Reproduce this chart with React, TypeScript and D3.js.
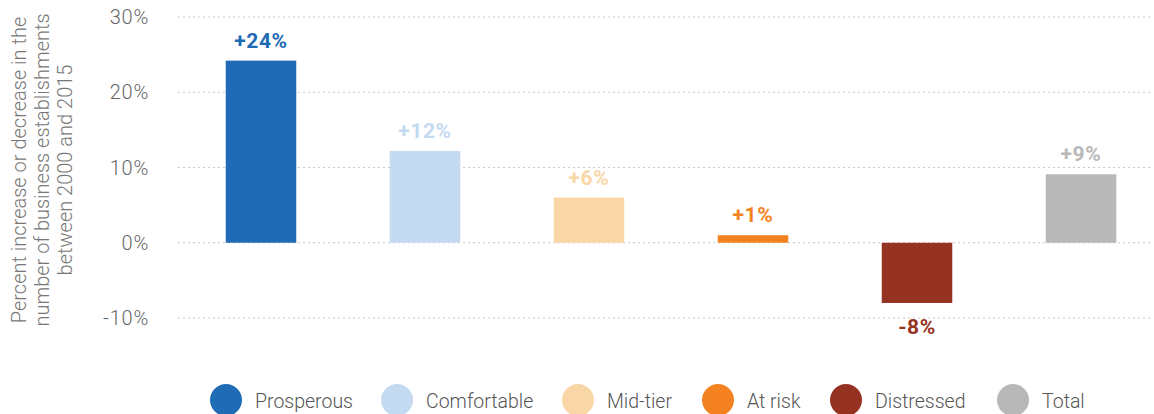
import React, { useEffect, useRef } from "react";
import * as d3 from "d3";

const categories = ["Prosperous", "Comfortable", "Mid-tier", "At risk", "Distressed", "Total"];
const values = [24.2, 12.2, 6, 1, -8, 9.1];
const valueLabels = ["+24%", "+12%", "+6%", "+1%", "-8%", "+9%"];
const colors = ["#1f6bb5", "#c4daf0", "#f9d6a6", "#f58220", "#963222", "#b8b8b8"];
const yTicks = [-10, 0, 10, 20, 30];
const titleLines = [
  "Percent increase or decrease in the",
  "number of business establishments",
  "between 2000 and 2015",
];

const App = () => {
  const svgRef = useRef<SVGSVGElement>(null);

  useEffect(() => {
    const width = 1154;
    const height = 414;
    const svg = d3.select(svgRef.current).attr("width", width).attr("height", height);
    svg.selectAll("*").remove();

    const font = "Roboto, 'Noto Sans', sans-serif";

    const y = d3.scaleLinear().domain([-10, 30]).range([318, 17]);
    const x = d3.scaleBand().domain(categories).range([179, 1163]).paddingInner(0.57).paddingOuter(0.285);

    // grid + tick labels
    const grid = svg.append("g");
    yTicks.forEach((t) => {
      grid
        .append("line")
        .attr("x1", 178)
        .attr("x2", 1150)
        .attr("y1", y(t))
        .attr("y2", y(t))
        .attr("stroke", "#c8c8c8")
        .attr("stroke-dasharray", "2,3")
        .attr("stroke-width", 1);
      grid
        .append("text")
        .attr("x", 149)
        .attr("y", y(t))
        .attr("dy", "0.35em")
        .attr("text-anchor", "end")
        .attr("font-family", font)
        .attr("font-weight", 300)
        .attr("font-size", 20)
        .attr("letter-spacing", 0.8)
        .attr("fill", "#666")
        .text(`${t}%`);
    });

    // y title
    const title = svg
      .append("text")
      .attr("transform", "translate(26,170) rotate(-90)")
      .attr("text-anchor", "middle")
      .attr("font-family", font)
      .attr("font-weight", 300)
      .attr("font-size", 20)
      .attr("fill", "#777");
    titleLines.forEach((l, i) => {
      title.append("tspan").attr("x", 0).attr("y", i * 23).text(l);
    });

    // bars
    const data = categories.map((c, i) => ({ c, v: values[i], label: valueLabels[i], color: colors[i] }));
    svg
      .append("g")
      .selectAll("rect")
      .data(data)
      .enter()
      .append("rect")
      .attr("x", (d) => x(d.c)!)
      .attr("width", x.bandwidth())
      .attr("y", (d) => Math.min(y(d.v), y(0)))
      .attr("height", (d) => Math.abs(y(d.v) - y(0)))
      .attr("fill", (d) => d.color);

    svg
      .append("g")
      .selectAll("text")
      .data(data)
      .enter()
      .append("text")
      .attr("x", (d) => x(d.c)! + x.bandwidth() / 2)
      .attr("y", (d) => (d.v >= 0 ? y(d.v) - 13 : y(d.v) + 31))
      .attr("text-anchor", "middle")
      .attr("font-family", font)
      .attr("font-weight", 700)
      .attr("font-size", 21)
      .attr("letter-spacing", 0.6)
      .attr("fill", (d) => d.color)
      .text((d) => d.label);

    // legend
    const legendX = [226, 397, 578, 718, 846, 1013];
    const legend = svg.append("g");
    data.forEach((d, i) => {
      legend
        .append("circle")
        .attr("cx", legendX[i])
        .attr("cy", 400)
        .attr("r", 16)
        .attr("fill", d.color);
      legend
        .append("text")
        .attr("x", legendX[i] + 29)
        .attr("y", 401)
        .attr("dy", "0.35em")
        .attr("font-family", font)
        .attr("font-weight", 300)
        .attr("font-size", 19.5)
        .attr("fill", "#555")
        .text(d.c);
    });
  }, []);

  return <svg ref={svgRef} style={{ position: "absolute", left: 0, top: 0 }} />;
};

export default App;
